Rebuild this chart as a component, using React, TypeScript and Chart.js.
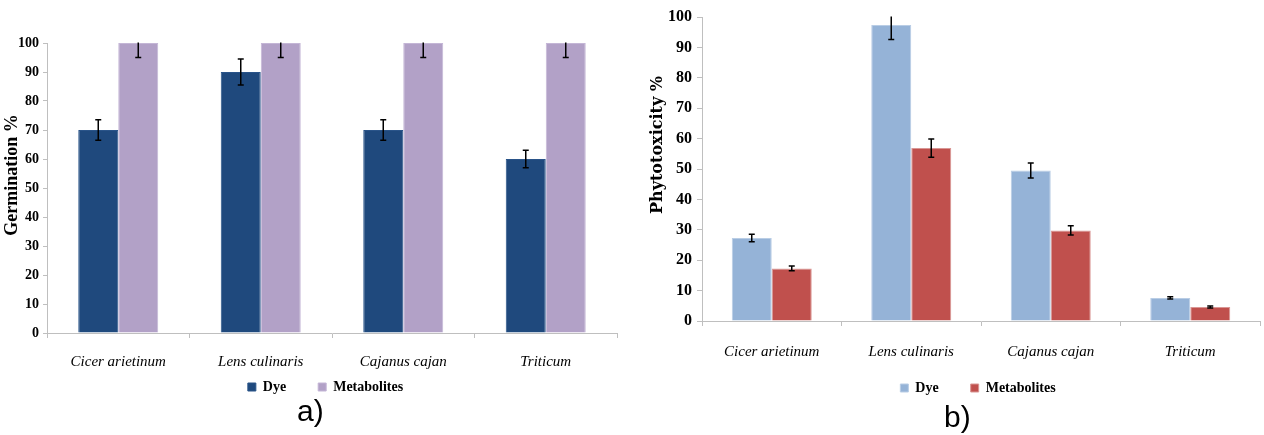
import React, { useEffect, useRef } from "react";
import { Chart, registerables } from "chart.js";

Chart.register(...registerables);

// ---------- data ----------
const categories = ["Cicer arietinum", "Lens culinaris", "Cajanus cajan", "Triticum"];
const seriesNames = ["Dye", "Metabolites"];

const germinationDye = [70, 90, 70, 60];
const germinationDyeErr = [3.5, 4.5, 3.5, 3];
const germinationMet = [100, 100, 100, 100];
const germinationMetErr = [5, 5, 5, 5];

const phytoDye = [27.3, 97.4, 49.5, 7.6];
const phytoDyeErr = [1.2, 4.8, 2.5, 0.4];
const phytoMet = [17.3, 56.9, 29.8, 4.6];
const phytoMetErr = [0.8, 3, 1.5, 0.3];

const yMin = 0;
const yMax = 100;
const yStep = 10;

const SERIF = "'Liberation Serif', 'Times New Roman', serif";
const AXIS_GRAY = "#bfbfbf";

// ---------- plugins ----------
const errorBarPlugin = {
  id: "errorBars",
  afterDatasetsDraw(chart: any, _args: any, opts: any) {
    const { ctx, chartArea } = chart;
    const yScale = chart.scales.y;
    const cap = opts.cap ?? 3;
    ctx.save();
    ctx.beginPath();
    ctx.rect(chartArea.left, chartArea.top - 0.5, chartArea.right - chartArea.left, chartArea.bottom - chartArea.top + 1);
    ctx.clip();
    ctx.strokeStyle = "#000";
    ctx.lineWidth = opts.lineWidth ?? 1.5;
    chart.data.datasets.forEach((ds: any, di: number) => {
      const meta = chart.getDatasetMeta(di);
      const errs: number[] = ds.errors || [];
      meta.data.forEach((bar: any, i: number) => {
        const v = ds.data[i];
        const e = errs[i] ?? 0;
        const x = bar.x;
        const yTop = yScale.getPixelForValue(v + e);
        const yBot = yScale.getPixelForValue(v - e);
        ctx.beginPath();
        ctx.moveTo(x, yTop);
        ctx.lineTo(x, yBot);
        ctx.moveTo(x - cap, yTop);
        ctx.lineTo(x + cap, yTop);
        ctx.moveTo(x - cap, yBot);
        ctx.lineTo(x + cap, yBot);
        ctx.stroke();
      });
    });
    ctx.restore();
  },
};

const legendShiftPlugin = {
  id: "legendShift",
  afterLayout(chart: any, _args: any, opts: any) {
    const dx = opts.dx ?? 0;
    const dy = opts.dy ?? 0;
    if (chart.legend) {
      chart.legend.left += dx;
      chart.legend.right += dx;
      chart.legend.top += dy;
      chart.legend.bottom += dy;
    }
  },
};

const yTitlePlugin = {
  id: "yTitle",
  afterDraw(chart: any, _args: any, opts: any) {
    if (!opts.text) return;
    const { ctx } = chart;
    ctx.save();
    ctx.translate(opts.x, opts.y);
    ctx.rotate(-Math.PI / 2);
    ctx.font = opts.font;
    ctx.fillStyle = "#000";
    ctx.textAlign = "center";
    ctx.textBaseline = "middle";
    ctx.fillText(opts.text, 0, 0);
    ctx.restore();
  },
};

// ---------- config builder ----------
function makeConfig(p: any) {
  return {
    type: "bar",
    data: {
      labels: categories,
      datasets: [
        {
          label: seriesNames[0],
          data: p.dye,
          errors: p.dyeErr,
          backgroundColor: p.colors[0],
          borderColor: p.borders[0],
          borderWidth: 1,
          barPercentage: 1,
          categoryPercentage: p.catPct,
        },
        {
          label: seriesNames[1],
          data: p.met,
          errors: p.metErr,
          backgroundColor: p.colors[1],
          borderColor: p.borders[1],
          borderWidth: 1,
          barPercentage: 1,
          categoryPercentage: p.catPct,
        },
      ],
    },
    options: {
      animation: false,
      responsive: true,
      maintainAspectRatio: false,
      layout: { padding: p.padding },
      scales: {
        x: {
          offset: true,
          grid: { offset: true, drawOnChartArea: false, drawTicks: true, tickLength: 5, color: AXIS_GRAY },
          border: { display: true, color: AXIS_GRAY, width: 1 },
          ticks: { color: "#000", padding: p.xPad, font: { family: SERIF, size: 15, style: "italic" }, maxRotation: 0 },
          afterFit: (s: any) => {
            s.height = p.xHeight;
          },
        },
        y: {
          min: yMin,
          max: yMax,
          grid: { drawOnChartArea: false, drawTicks: true, tickLength: p.yTick, color: AXIS_GRAY },
          border: { display: true, color: AXIS_GRAY, width: 1 },
          ticks: {
            stepSize: yStep,
            color: "#000",
            padding: p.yPad,
            font: { family: SERIF, size: p.yFont, weight: "bold" },
          },
          afterFit: (s: any) => {
            s.width = p.yWidth;
          },
        },
      },
      plugins: {
        legend: {
          display: true,
          position: "bottom",
          labels: {
            boxWidth: 8,
            boxHeight: 8,
            padding: 32,
            color: "#000",
            font: { family: SERIF, size: 14, weight: "bold" },
          },
        },
        tooltip: { enabled: false },
        errorBars: { cap: 3, lineWidth: 1.5 },
        legendShift: { dx: p.legendDx, dy: p.legendDy },
        yTitle: p.yTitle,
      },
    },
    plugins: [errorBarPlugin, legendShiftPlugin, yTitlePlugin],
  };
}

function ChartBox({ config, box }: { config: any; box: any }) {
  const ref = useRef<HTMLCanvasElement | null>(null);
  useEffect(() => {
    if (!ref.current) return;
    const chart = new Chart(ref.current, config);
    return () => chart.destroy();
  }, []);
  return (
    <div style={{ position: "absolute", left: box.left, top: box.top, width: box.width, height: box.height }}>
      <canvas ref={ref} />
    </div>
  );
}

const leftConfig = makeConfig({
  dye: germinationDye,
  dyeErr: germinationDyeErr,
  met: germinationMet,
  metErr: germinationMetErr,
  colors: ["#1F497D", "#B2A1C7"],
  borders: ["#2a5489", "#c4b6d6"],
  catPct: 0.5614,
  padding: { top: 43, right: 18, bottom: 1, left: 0 },
  xPad: 15,
  xHeight: 40,
  yTick: 4,
  yPad: 4,
  yFont: 14,
  yWidth: 47,
  legendDx: 17,
  legendDy: -25,
  yTitle: { text: "Germination %", x: 12, y: 175, font: `bold 18px ${SERIF}` },
});

const rightConfig = makeConfig({
  dye: phytoDye,
  dyeErr: phytoDyeErr,
  met: phytoMet,
  metErr: phytoMetErr,
  colors: ["#95B3D7", "#C0504D"],
  borders: ["#b9cde5", "#d99694"],
  catPct: 0.5735,
  padding: { top: 17, right: 4, bottom: 1, left: 0 },
  xPad: 17,
  xHeight: 52,
  yTick: 5,
  yPad: 5,
  yFont: 16,
  yWidth: 62,
  legendDx: 28,
  legendDy: -24,
  yTitle: { text: "Phytotoxicity %", x: 18, y: 145, font: `bold 16px 'DejaVu Serif', serif` },
});

const panelLabelStyle: any = {
  position: "absolute",
  fontFamily: "'Liberation Sans', Arial, sans-serif",
  fontSize: 30,
  lineHeight: "30px",
  color: "#000",
  whiteSpace: "nowrap",
};

export default function App() {
  return (
    <div style={{ position: "fixed", left: 0, top: 0, width: 1264, height: 435, background: "#fff", overflow: "hidden" }}>
      <ChartBox config={leftConfig} box={{ left: 0, top: 0, width: 635, height: 430 }} />
      <ChartBox config={rightConfig} box={{ left: 640, top: 0, width: 624, height: 430 }} />
      <div style={{ ...panelLabelStyle, left: 297, top: 396 }}>a)</div>
      <div style={{ ...panelLabelStyle, left: 944, top: 402 }}>b)</div>
    </div>
  );
}
